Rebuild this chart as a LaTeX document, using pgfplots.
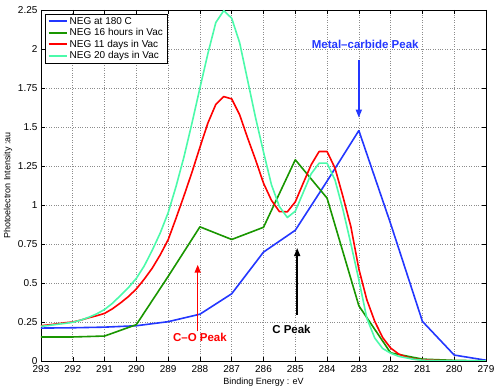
\documentclass[border=0pt]{standalone}
\usepackage{pgfplots}
\pgfplotsset{compat=1.18}
\usepackage{pgfplotstable}
\usepackage{fontspec}
\setmainfont{Liberation Sans}
\usetikzlibrary{arrows.meta}

\definecolor{cblue}{RGB}{35,55,255}
\definecolor{cgreen}{RGB}{25,150,0}
\definecolor{cred}{RGB}{255,0,0}
\definecolor{ccyan}{RGB}{75,250,170}

% NEG at 180 C
\pgfplotstableread{
E I
293 0.211
292 0.213
291 0.217
290 0.226
289 0.252
288 0.300
287 0.431
286 0.698
285 0.838
284 1.153
283 1.477
282 0.880
281 0.254
280 0.038
279 0.005
}\tblue

% NEG 16 hours in Vac
\pgfplotstableread{
E I
293 0.154
292 0.154
291 0.160
290 0.233
289 0.542
288 0.860
287 0.779
286 0.857
285 1.290
284 1.044
283 0.354
282 0.052
281 0.012
280 0.004
279 0.001
}\tgreen

% NEG 11 days in Vac
\pgfplotstableread{
E I
293 0.226
292.75 0.232
292.5 0.238
292.25 0.245
292 0.250
291.75 0.262
291.5 0.277
291.25 0.290
291 0.305
290.75 0.335
290.5 0.372
290.25 0.413
290 0.462
289.75 0.525
289.5 0.595
289.25 0.680
289 0.777
288.75 0.916
288.5 1.060
288.25 1.210
288 1.370
287.75 1.525
287.5 1.645
287.25 1.695
287 1.680
286.75 1.578
286.5 1.430
286.25 1.290
286 1.140
285.75 1.030
285.5 0.958
285.25 0.956
285 1.020
284.75 1.140
284.5 1.258
284.25 1.343
284 1.343
283.75 1.236
283.5 1.054
283.25 0.860
283 0.590
282.75 0.393
282.5 0.254
282.25 0.150
282 0.083
281.75 0.045
281.5 0.025
281.25 0.012
281 0.008
280.5 0.003
280 0.001
279 0.000
}\tred

% NEG 20 days in Vac
\pgfplotstableread{
E I
293 0.222
292.75 0.228
292.5 0.235
292.25 0.241
292 0.248
291.75 0.262
291.5 0.280
291.25 0.302
291 0.330
290.75 0.370
290.5 0.420
290.25 0.470
290 0.530
289.75 0.610
289.5 0.710
289.25 0.820
289 0.950
288.75 1.120
288.5 1.310
288.25 1.525
288 1.750
287.75 1.970
287.5 2.170
287.25 2.246
287 2.197
286.75 2.040
286.5 1.800
286.25 1.560
286 1.340
285.75 1.130
285.5 0.990
285.25 0.920
285 0.960
284.75 1.080
284.5 1.200
284.25 1.268
284 1.268
283.75 1.160
283.5 0.970
283.25 0.750
283 0.520
282.75 0.275
282.5 0.147
282.25 0.080
282 0.050
281.75 0.030
281.5 0.020
281.25 0.010
281 0.005
280.5 0.002
280 0.001
279 0.000
}\tcyan

\begin{document}
\begin{tikzpicture}
\begin{axis}[
    name=ax,
    at={(0,0)}, anchor=south west,
    scale only axis,
    width=445pt, height=351pt,
    x dir=reverse,
    xmin=279, xmax=293,
    ymin=0, ymax=2.25,
    xtick={279,280,...,293},
    ytick={0,0.25,0.5,0.75,1,1.25,1.5,1.75,2,2.25},
    yticklabels={0,0.25,0.5,0.75,1,1.25,1.5,1.75,2,2.25},
    xticklabel style={font=\fontsize{10}{12}\selectfont, yshift=-1pt},
    yticklabel style={font=\fontsize{10}{12}\selectfont},
    /pgf/number format/assume math mode=true,
    tick align=inside,
    major tick length=4pt,
    tick style={black, line width=0.5pt},
    axis line style={black, line width=0.8pt},
    grid=major,
    grid style={dotted, black!45, line width=0.6pt},
    xlabel={Binding Energy : eV},
    ylabel={Photoelectron Intensity :au},
    every axis x label/.style={at={(axis description cs:0.5,-0.06)}, anchor=center, font=\fontsize{9}{11}\selectfont},
    every axis y label/.style={at={(axis description cs:-0.074,0.5)}, anchor=center, rotate=90, font=\fontsize{9}{11}\selectfont},
    legend cell align=left,
    legend image code/.code={\draw[#1, line width=2pt] (0pt,0pt) -- (18pt,0pt);},
    legend style={
        at={(axis description cs:0.009,0.989)}, anchor=north west,
        draw=black,
        font=\fontsize{10}{11}\selectfont,
        inner xsep=2.5pt, inner ysep=1pt,
        row sep=-1.2pt,
    },
]
\addplot[cblue, line width=1.6pt, line join=round] table[x=E, y=I] {\tblue};
\addlegendentry{NEG at 180 C}
\addplot[cgreen, line width=1.6pt, line join=round] table[x=E, y=I] {\tgreen};
\addlegendentry{NEG 16 hours in Vac}
\addplot[cred, line width=1.6pt, line join=round] table[x=E, y=I] {\tred};
\addlegendentry{NEG 11 days in Vac}
\addplot[ccyan, line width=1.6pt, line join=round] table[x=E, y=I] {\tcyan};
\addlegendentry{NEG 20 days in Vac}

% annotations
\node[text=cblue, font=\fontsize{11.5}{13}\bfseries\selectfont] at (axis cs:282.8,2.03) {Metal--carbide Peak};
\draw[cblue, line width=1.5pt, -{Triangle[length=8pt,width=6pt]}] (axis cs:283,1.93) -- (axis cs:283,1.56);
\node[text=cred, font=\fontsize{11.5}{13}\bfseries\selectfont] at (axis cs:288.0,0.15) {C--O Peak};
\draw[cred, line width=1.5pt, -{Triangle[length=8pt,width=6pt]}] (axis cs:288.07,0.19) -- (axis cs:288.07,0.617);
\node[text=black, font=\fontsize{11.5}{13}\bfseries\selectfont] at (axis cs:285.12,0.2) {C Peak};
\draw[black, line width=1.5pt, -{Triangle[length=8pt,width=6pt]}] (axis cs:284.94,0.297) -- (axis cs:284.94,0.724);
\end{axis}
\pgfresetboundingbox
\path[use as bounding box] (-41pt,-29pt) rectangle (457pt,361pt);
\end{tikzpicture}
\end{document}
